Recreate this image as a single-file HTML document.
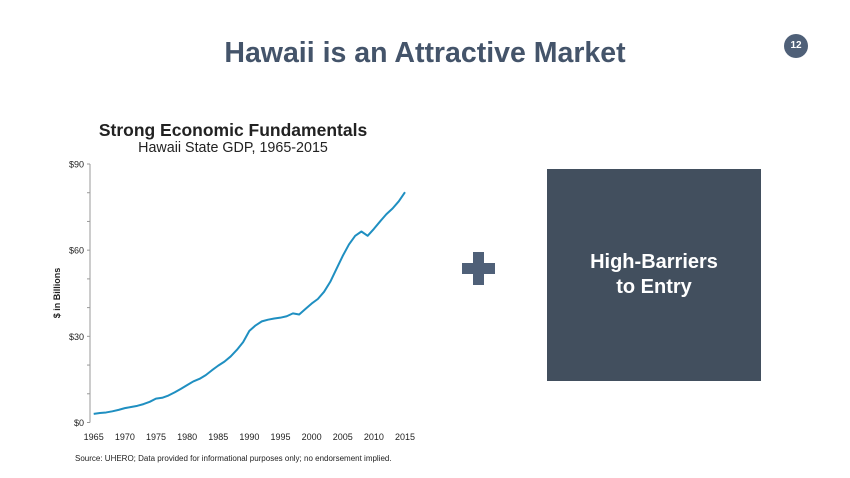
<!DOCTYPE html>
<html><head><meta charset="utf-8"><style>
body{margin:0;width:850px;height:478px;background:#fff;position:relative;overflow:hidden;font-family:"Liberation Sans",Arial,sans-serif}
.abs{position:absolute}
</style></head><body>
<div class="abs" style="left:0;width:850px;top:37px;text-align:center;font-size:28.5px;font-weight:bold;color:#44546a">Hawaii is an Attractive Market</div>
<div class="abs" style="left:784px;top:34px;width:24px;height:24px;border-radius:50%;background:#4f6078;color:#fff;font-size:10px;font-weight:bold;text-align:center;line-height:24px">12</div>
<div class="abs" style="left:33px;width:400px;top:120px;text-align:center;font-size:17.5px;font-weight:bold;color:#222">Strong Economic Fundamentals</div>
<div class="abs" style="left:33px;width:400px;top:140px;text-align:center;font-size:14.3px;color:#222">Hawaii State GDP, 1965-2015</div>
<svg class="abs" style="left:0;top:0" width="850" height="478" id="chart"></svg>
<div class="abs" style="left:75px;top:454px;font-size:8px;color:#222">Source: UHERO; Data provided for informational purposes only; no endorsement implied.</div>
<div class="abs" style="left:462px;top:252px;width:33px;height:33px">
<div class="abs" style="left:11px;top:0;width:11px;height:33px;background:#4f6078"></div>
<div class="abs" style="left:0;top:11px;width:33px;height:11px;background:#4f6078"></div>
</div>
<div class="abs" style="left:547px;top:169px;width:214px;height:212px;background:#424f5e;color:#fff;font-size:20px;font-weight:bold;text-align:center;display:flex;align-items:center;justify-content:center;line-height:25px">High-Barriers<br>to Entry</div>
<script>
const years=[];for(let y=1965;y<=2015;y++)years.push(y);
const gdp=[3.0,3.3,3.5,3.9,4.4,5.0,5.4,5.8,6.4,7.2,8.3,8.6,9.4,10.5,11.7,13.0,14.3,15.2,16.5,18.2,19.8,21.2,23.0,25.3,28.0,31.9,33.8,35.2,35.8,36.2,36.5,37.0,38.0,37.6,39.5,41.4,43.0,45.5,49.0,53.5,58.0,62.0,65.0,66.5,65.0,67.4,70.0,72.5,74.5,77.0,80.2];
const yTicks=[0,30,60,90];
const yTickLabels=["$0","$30","$60","$90"];
const xTicks=[1965,1970,1975,1980,1985,1990,1995,2000,2005,2010,2015];
const svg=document.getElementById('chart');const NS='http://www.w3.org/2000/svg';
const X=v=>93.7+(v-1965)*(405-93.7)/50;
const Y=v=>422.5-v*(258.5/90);
function mk(t,a,parent){const e=document.createElementNS(NS,t);for(const k in a)e.setAttribute(k,a[k]);(parent||svg).appendChild(e);return e;}
const ax=mk('line',{x1:90,y1:164,x2:90,y2:422.5,stroke:'#999','stroke-width':1});


for(let v=0;v<=90;v+=10){const t=mk('line',{x1:87,x2:90,y1:Y(v),y2:Y(v),stroke:'#999'});

}
yTicks.forEach((v,i)=>{const t=mk('text',{x:84,y:Y(v)+3.5,'text-anchor':'end','font-size':9,fill:'#222','font-family':'Liberation Sans'});t.textContent=yTickLabels[i];

});
xTicks.forEach(v=>{const t=mk('text',{x:X(v),y:440,'text-anchor':'middle','font-size':9,fill:'#222','font-family':'Liberation Sans'});t.textContent=v;

});
const yt=mk('text',{x:0,y:0,transform:'translate(60,293) rotate(-90)','text-anchor':'middle','font-size':9,'font-weight':'bold',fill:'#222','font-family':'Liberation Sans'});yt.textContent='$ in Billions';


const p=mk('polyline',{points:years.map((y,i)=>X(y)+','+Y(gdp[i])).join(' '),fill:'none',stroke:'#1f8fc1','stroke-width':2,'stroke-linejoin':'round'});


</script>
</body></html>
